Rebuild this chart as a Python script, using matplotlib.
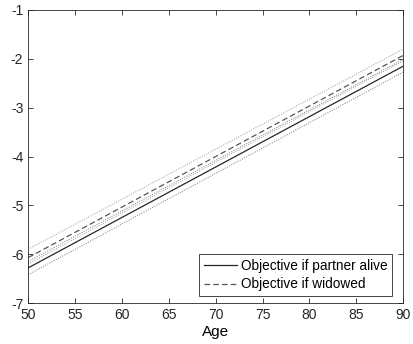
import matplotlib
matplotlib.use("Agg")
import matplotlib.pyplot as plt

ages = [50, 90]
alive = [-6.28, -2.15]
alive_lo = [-6.42, -2.27]
alive_hi = [-6.15, -2.01]
widowed = [-6.07, -1.93]
widowed_lo = [-6.20, -2.04]
widowed_hi = [-5.90, -1.80]

plt.rcParams['font.family'] = ['Liberation Sans', 'DejaVu Sans']
plt.rcParams['axes.unicode_minus'] = False
fig = plt.figure(figsize=(4.14, 3.44), dpi=100)
ax = fig.add_axes([0.068, 0.119, 0.906, 0.852])

ax.plot(ages, alive, color='#262626', lw=0.9, ls='-', label='Objective if partner alive')
ax.plot(ages, widowed, color='#555555', lw=0.9, ls=(0, (4.5, 2.5)), label='Objective if widowed')
for y in (alive_lo, alive_hi):
    ax.plot(ages, y, color='#777777', lw=0.7, ls=(0, (1, 1.5)))
for y in (widowed_lo, widowed_hi):
    ax.plot(ages, y, color='#999999', lw=0.7, ls=(0, (1, 1.5)))

ax.set_xlim(50, 90)
ax.set_ylim(-7, -1)
ax.set_xticks(range(50, 91, 5))
ax.set_yticks(range(-7, 0))
ax.tick_params(direction='in', top=True, right=True, labelsize=10, length=3.5, width=0.6, colors='#262626')
for s in ax.spines.values():
    s.set_linewidth(0.6)
    s.set_color('#262626')
ax.set_xlabel('Age', fontsize=11, labelpad=2)
leg = ax.legend(loc='lower right', bbox_to_anchor=(0.971, 0.024), fontsize=9.8, fancybox=False,
                edgecolor='#262626', framealpha=1, borderaxespad=0, handlelength=2.4,
                borderpad=0.35, labelspacing=0.3, handletextpad=0.3)
leg.get_frame().set_linewidth(0.6)
fig.savefig('out.png', dpi=100)
